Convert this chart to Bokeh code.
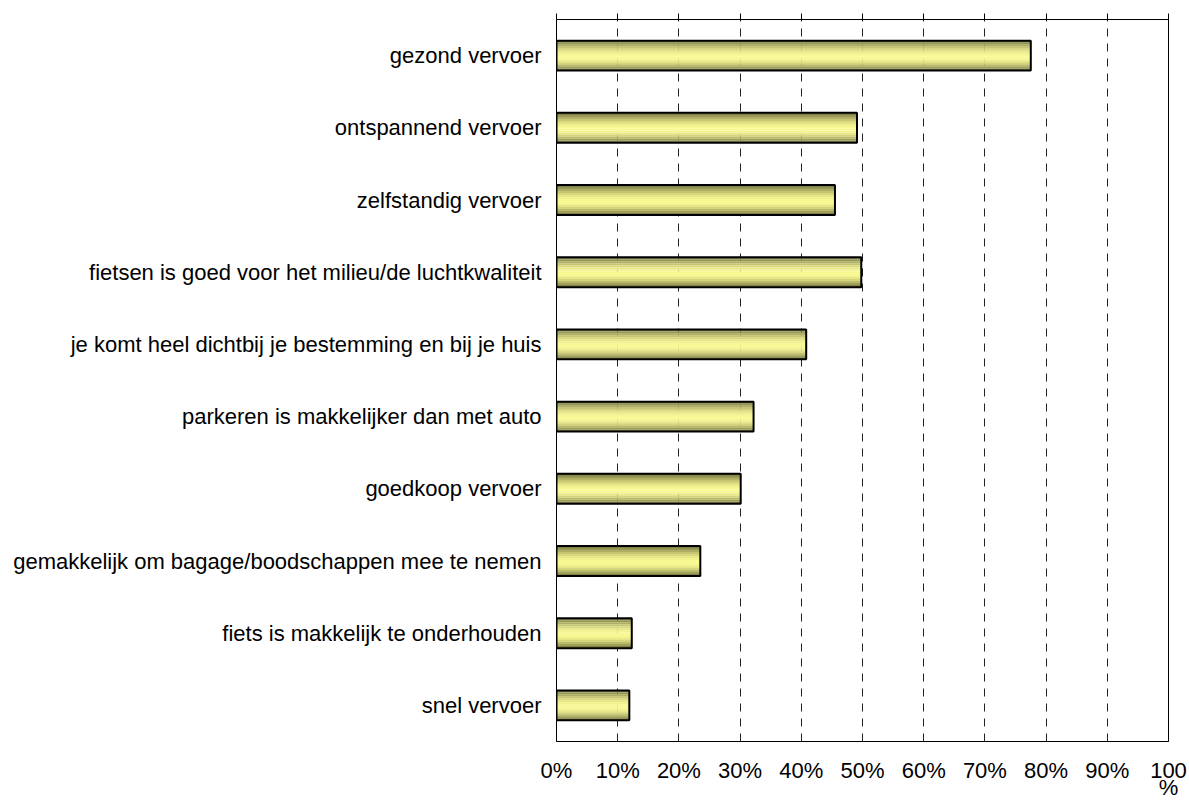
import math
from bokeh.plotting import figure
from bokeh.models import Range1d, FixedTicker, LinearAxis, Grid
from bokeh.embed import file_html
from bokeh.resources import INLINE

categories = [
    "gezond vervoer",
    "ontspannend vervoer",
    "zelfstandig vervoer",
    "fietsen is goed voor het milieu/de luchtkwaliteit",
    "je komt heel dichtbij je bestemming en bij je huis",
    "parkeren is makkelijker dan met auto",
    "goedkoop vervoer",
    "gemakkelijk om bagage/boodschappen mee te nemen",
    "fiets is makkelijk te onderhouden",
    "snel vervoer",
]
values = [77.5, 49.1, 45.5, 49.8, 40.8, 32.2, 30.1, 23.5, 12.3, 11.9]
x_ticks = [0, 10, 20, 30, 40, 50, 60, 70, 80, 90, 100]
x_tick_labels = ["0%", "10%", "20%", "30%", "40%", "50%", "60%", "70%", "80%", "90%", "100\n%"]

FONT = "Liberation Sans"
FS = "22px"

n = len(categories)
ypos = [n - i for i in range(n)]

p = figure(width=1189, height=802, output_backend="svg", toolbar_location=None,
           x_range=Range1d(0, 100), y_range=Range1d(0.5, n + 0.5),
           x_axis_location=None, y_axis_location=None,
           min_border_left=556, min_border_right=21, min_border_top=19,
           min_border_bottom=58, background_fill_color="white",
           border_fill_color="white")
p.outline_line_color = "black"
p.outline_line_width = 1
p.ygrid.visible = False
p.xgrid.visible = False

bottom = LinearAxis(ticker=FixedTicker(ticks=x_ticks))
bottom.major_label_overrides = {t: l for t, l in zip(x_ticks, x_tick_labels)}
bottom.major_tick_out = 0
bottom.major_tick_in = 0
bottom.minor_tick_out = 0
bottom.minor_tick_in = 0
bottom.major_label_standoff = 16
bottom.major_label_text_font = FONT
bottom.major_label_text_font_size = FS
bottom.major_label_text_line_height = 0.69
bottom.major_label_text_color = "black"
bottom.axis_line_color = "black"
p.add_layout(bottom, "below")

top = LinearAxis(ticker=FixedTicker(ticks=x_ticks))
top.major_tick_out = 6
top.major_tick_in = 0
top.minor_tick_out = 0
top.minor_tick_in = 0
top.major_label_text_font_size = "0px"
top.major_label_text_alpha = 0
top.major_label_standoff = 0
top.axis_line_color = "black"
top.major_tick_line_color = "black"
p.add_layout(top, "above")

left = LinearAxis(ticker=FixedTicker(ticks=ypos))
left.major_label_overrides = {y: c for y, c in zip(ypos, categories)}
left.major_tick_out = 0
left.major_tick_in = 0
left.minor_tick_out = 0
left.minor_tick_in = 0
left.major_label_standoff = 15
left.major_label_text_font = FONT
left.major_label_text_font_size = FS
left.major_label_text_color = "black"
left.axis_line_color = "black"
p.add_layout(left, "left")

g = Grid(dimension=0, ticker=FixedTicker(ticks=x_ticks[1:-1]))
g.grid_line_color = "#222222"
g.grid_line_dash = "8 7"
g.grid_line_width = 1
p.add_layout(g)

# bars with cylinder-like shading built from thin strips
half = 0.207
nstrips = 15
dark = (112, 112, 60)
bright = (250, 250, 148)
for k in range(nstrips):
    t = (k + 0.5) / nstrips
    peak = 0.55
    d = (t - peak) / (peak if t < peak else (1 - peak))
    w = math.cos(d * math.pi / 2)
    c = tuple(int(dark[j] + (bright[j] - dark[j]) * w) for j in range(3))
    col = "#%02x%02x%02x" % c
    y0 = half - k * (2 * half / nstrips)
    y1 = half - (k + 1) * (2 * half / nstrips)
    off = (y0 + y1) / 2
    p.hbar(y=[y + off for y in ypos], right=values, left=0,
           height=2 * half / nstrips + 0.002, fill_color=col, line_color=None)

p.hbar(y=ypos, right=values, left=0, height=2 * half, fill_alpha=0,
       line_color="black", line_width=2)

open("out.html", "w").write(file_html(p, INLINE))
